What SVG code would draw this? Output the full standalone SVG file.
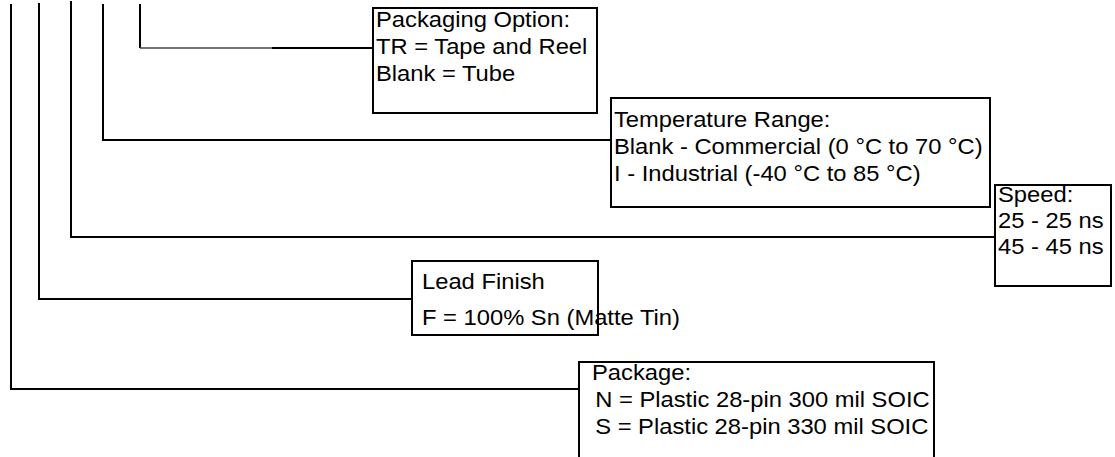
<svg xmlns="http://www.w3.org/2000/svg" width="1115" height="457" viewBox="0 0 1115 457">
<style>
.box{fill:#fff;stroke:#000;stroke-width:2}
.ln{fill:none;stroke:#000;stroke-width:2}
.t{font-family:"Liberation Sans",Arial,sans-serif;font-size:22px;fill:#000}
</style>
<rect width="1115" height="457" fill="#fff"/>
<g id="connectors">
<path class="ln" d="M11,4 V389 H579"/>
<path class="ln" d="M39,3 V299 H412"/>
<path class="ln" d="M71,1 V237 H995"/>
<path class="ln" d="M103,4 V140 H611"/>
<path class="ln" d="M140,4 V48"/>
<path fill="none" stroke="#444" stroke-width="1.5" d="M140,48 H272"/>
<path class="ln" d="M272,48 H373"/>
</g>
<g id="packaging">
<rect class="box" x="373" y="8" width="224" height="105"/>
<g transform="translate(376,0) scale(1.08,1)">
<text class="t" x="0" y="27">Packaging Option:</text>
<text class="t" x="0" y="54">TR = Tape and Reel</text>
<text class="t" x="0" y="81">Blank = Tube</text>
</g>
</g>
<g id="temperature">
<rect class="box" x="611" y="98" width="379" height="109"/>
<g transform="translate(614,0) scale(1.08,1)">
<text class="t" x="0" y="127">Temperature Range:</text>
<text class="t" x="0" y="154">Blank - Commercial (0 °C to 70 °C)</text>
<text class="t" x="0" y="181">I - Industrial (-40 °C to 85 °C)</text>
</g>
</g>
<g id="speed">
<rect class="box" x="995" y="185" width="116" height="101"/>
<g transform="translate(998,0) scale(1.08,1)">
<text class="t" x="0" y="202">Speed:</text>
<text class="t" x="0" y="228">25 - 25 ns</text>
<text class="t" x="0" y="254">45 - 45 ns</text>
</g>
</g>
<g id="leadfinish">
<rect class="box" x="412" y="261" width="186" height="74"/>
<g transform="translate(422,0) scale(1.08,1)">
<text class="t" x="0" y="289">Lead Finish</text>
<text class="t" x="0" y="325">F = 100% Sn (Matte Tin)</text>
</g>
</g>
<g id="package">
<rect class="box" x="579" y="362" width="355" height="110"/>
<g transform="translate(592,0) scale(1.08,1)">
<text class="t" x="0" y="380">Package:</text>
<text class="t" x="3" y="407">N = Plastic 28-pin 300 mil SOIC</text>
<text class="t" x="3" y="434">S = Plastic 28-pin 330 mil SOIC</text>
</g>
</g>
</svg>
